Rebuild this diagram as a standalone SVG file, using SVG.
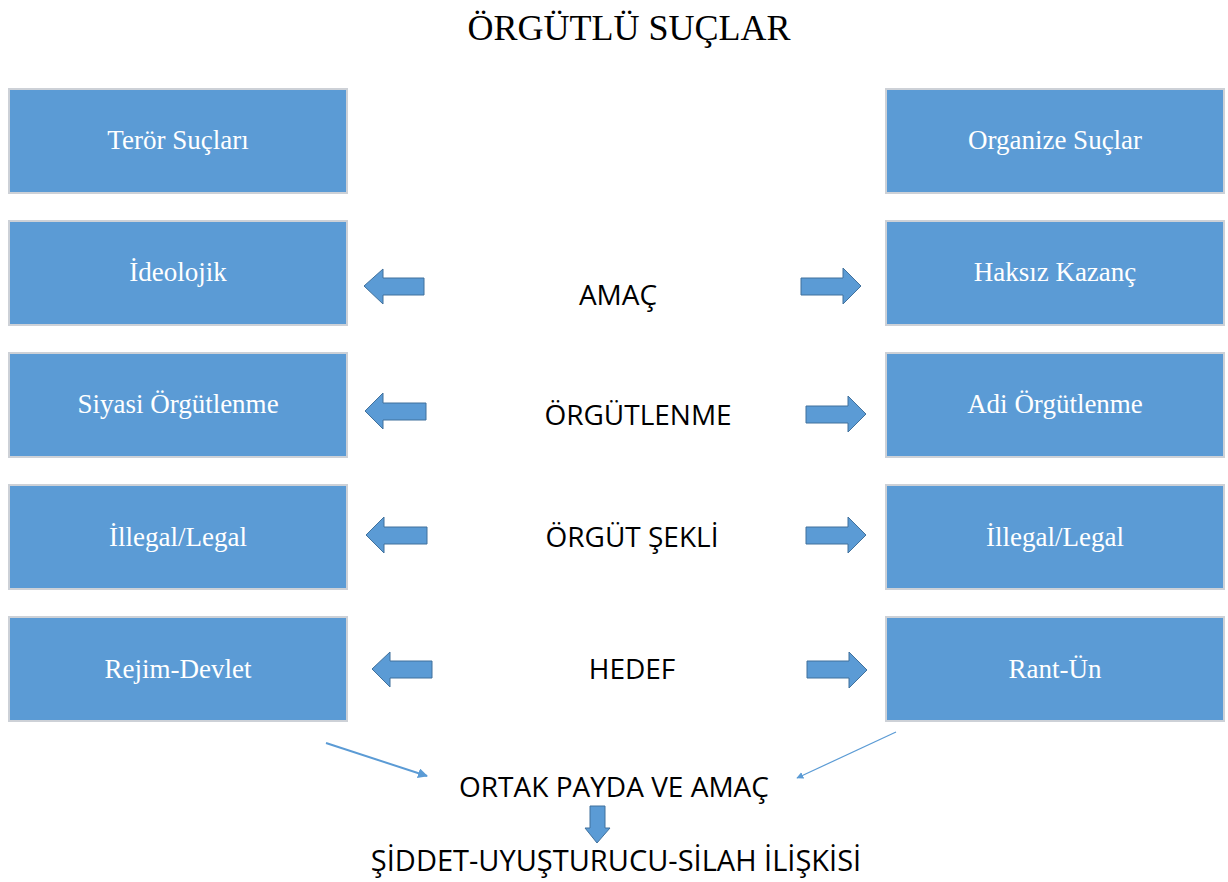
<svg xmlns="http://www.w3.org/2000/svg" width="1228" height="882" viewBox="0 0 1228 882">
<style>
.box{fill:#5b9bd5;stroke:#cdd1d7;stroke-width:2}
.bt{font-family:"Liberation Serif",serif;font-size:27px;fill:#ffffff;text-anchor:middle}
.lbl{font-family:"Open Sans","Liberation Sans",sans-serif;font-size:28px;fill:#000;text-anchor:middle}
.ar{fill:#5b9bd5;stroke:#41719c;stroke-width:1}
.ln{stroke:#5b9bd5;fill:none}
</style>
<defs>
<marker id="ah" viewBox="0 0 10 10" refX="9" refY="5" markerWidth="7" markerHeight="7" markerUnits="userSpaceOnUse" orient="auto"><path d="M0,0 L10,5 L0,10 z" fill="#5b9bd5"/></marker>
<marker id="ah2" viewBox="0 0 10 10" refX="9" refY="5" markerWidth="10" markerHeight="10" markerUnits="userSpaceOnUse" orient="auto"><path d="M0,0 L10,5 L0,10 z" fill="#5b9bd5"/></marker>
</defs>
<rect width="1228" height="882" fill="#ffffff"/>
<text x="629" y="40" font-family="Liberation Serif, serif" font-size="36" text-anchor="middle">ÖRGÜTLÜ SUÇLAR</text>

<g id="n-teror"><rect class="box" x="9" y="89" width="338" height="104"/><text class="bt" x="178" y="149">Terör Suçları</text></g>
<g id="n-organize"><rect class="box" x="886" y="89" width="338" height="104"/><text class="bt" x="1055" y="149">Organize Suçlar</text></g>
<g id="n-ideolojik"><rect class="box" x="9" y="221" width="338" height="104"/><text class="bt" x="178" y="281">İdeolojik</text></g>
<g id="n-haksiz"><rect class="box" x="886" y="221" width="338" height="104"/><text class="bt" x="1055" y="281">Haksız Kazanç</text></g>
<g id="n-siyasi"><rect class="box" x="9" y="353" width="338" height="104"/><text class="bt" x="178" y="413">Siyasi Örgütlenme</text></g>
<g id="n-adi"><rect class="box" x="886" y="353" width="338" height="104"/><text class="bt" x="1055" y="413">Adi Örgütlenme</text></g>
<g id="n-illegal1"><rect class="box" x="9" y="485" width="338" height="104"/><text class="bt" x="178" y="546">İllegal/Legal</text></g>
<g id="n-illegal2"><rect class="box" x="886" y="485" width="338" height="104"/><text class="bt" x="1055" y="546">İllegal/Legal</text></g>
<g id="n-rejim"><rect class="box" x="9" y="617" width="338" height="104"/><text class="bt" x="178" y="678">Rejim-Devlet</text></g>
<g id="n-rant"><rect class="box" x="886" y="617" width="338" height="104"/><text class="bt" x="1055" y="678">Rant-Ün</text></g>

<g id="n-amac"><text class="lbl" x="618" y="305">AMAÇ</text></g>
<g id="n-orgutlenme"><text class="lbl" x="638" y="425">ÖRGÜTLENME</text></g>
<g id="n-sekli"><text class="lbl" x="632" y="547">ÖRGÜT ŞEKLİ</text></g>
<g id="n-hedef"><text class="lbl" x="632" y="679">HEDEF</text></g>
<g id="n-ortak"><text class="lbl" x="614" y="797">ORTAK PAYDA VE AMAÇ</text></g>
<g id="n-siddet"><text class="lbl" x="616" y="871" style="font-size:29px">ŞİDDET-UYUŞTURUCU-SİLAH İLİŞKİSİ</text></g>

<g id="connectors">
<path class="ar" d="M364,286 L383,269 L383,278 L424,278 L424,295 L383,295 L383,304 Z"/>
<path class="ar" d="M861,286 L843,268 L843,278 L801,278 L801,295 L843,295 L843,304 Z"/>
<path class="ar" d="M365,411 L383,393 L383,403 L426,403 L426,420 L383,420 L383,429 Z"/>
<path class="ar" d="M866,414 L848,396 L848,406 L806,406 L806,423 L848,423 L848,432 Z"/>
<path class="ar" d="M366,535 L384,517 L384,527 L427,527 L427,544 L384,544 L384,553 Z"/>
<path class="ar" d="M866,535 L848,517 L848,527 L806,527 L806,544 L848,544 L848,553 Z"/>
<path class="ar" d="M372,669 L390,652 L390,661 L432,661 L432,678 L390,678 L390,687 Z"/>
<path class="ar" d="M867,670 L849,652 L849,661 L807,661 L807,678 L849,678 L849,688 Z"/>
<path class="ar" d="M597,843 L585,828 L590,828 L590,806 L605,806 L605,828 L610,828 Z"/>
<path class="ln" stroke-width="2" d="M326,743 L427,776" marker-end="url(#ah2)"/>
<path class="ln" stroke-width="1.2" d="M896,732 L797,778" marker-end="url(#ah)"/>
</g>
</svg>
